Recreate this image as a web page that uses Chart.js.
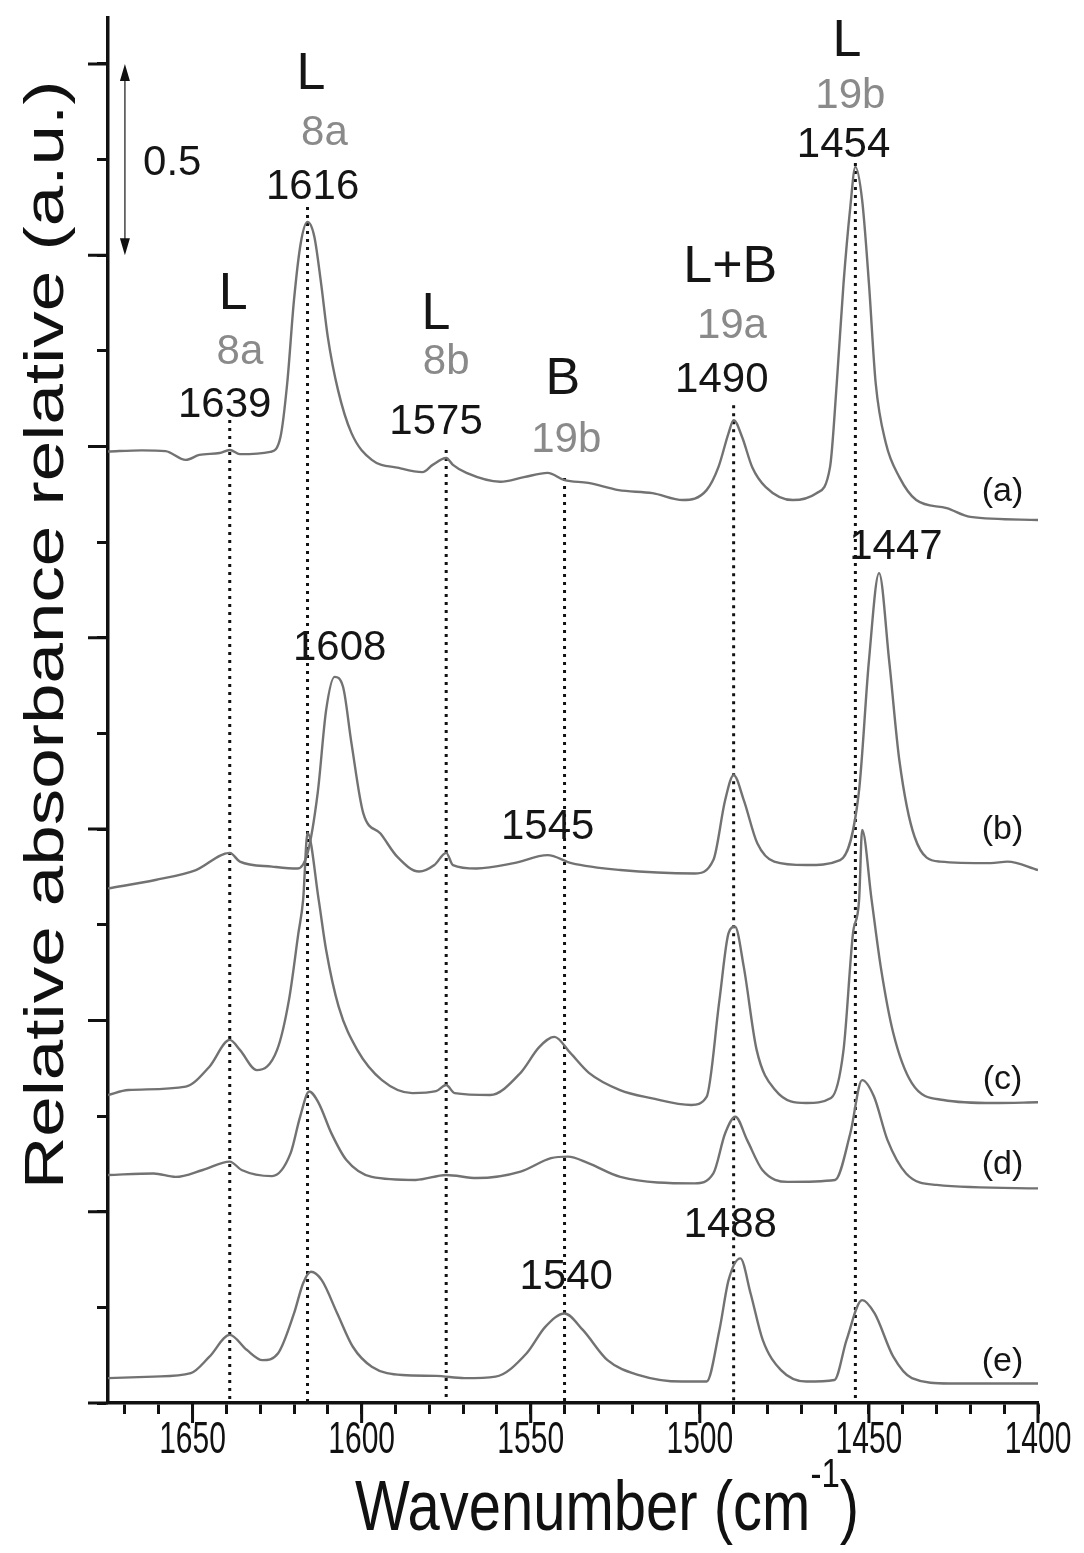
<!DOCTYPE html>
<html>
<head>
<meta charset="utf-8">
<script src="https://cdn.jsdelivr.net/npm/chart.js@4.4.1/dist/chart.umd.min.js"></script>
<style>
  html, body { margin: 0; padding: 0; background: #fff; }
  #wrap { width: 1084px; height: 1553px; }
</style>
</head>
<body>
<div id="wrap"><canvas id="spectra" width="1084" height="1553"></canvas></div>
<script>
// Pyridine-adsorption IR spectra (a)-(e), stacked with offsets
const wnA = [1675, 1665, 1658, 1652, 1648, 1642, 1639, 1636, 1627, 1624, 1622, 1620, 1618, 1616, 1614, 1612, 1610, 1607, 1603, 1597, 1589, 1582, 1579, 1575, 1573, 1569, 1559, 1552, 1545, 1540, 1533, 1524, 1514, 1505, 1498, 1494.5, 1491.5, 1490, 1487.5, 1484.5, 1480.5, 1472.5, 1465.5, 1461.5, 1459.5, 1457.5, 1455.5, 1454, 1452, 1450, 1448, 1445, 1441, 1436, 1427, 1420, 1400];
const absA = [2.487, 2.490, 2.488, 2.465, 2.478, 2.483, 2.491, 2.480, 2.486, 2.525, 2.666, 2.883, 3.032, 3.087, 3.049, 2.927, 2.786, 2.648, 2.535, 2.465, 2.444, 2.433, 2.452, 2.470, 2.452, 2.431, 2.408, 2.420, 2.431, 2.412, 2.405, 2.386, 2.378, 2.360, 2.386, 2.446, 2.535, 2.569, 2.525, 2.446, 2.394, 2.360, 2.378, 2.446, 2.666, 2.927, 3.126, 3.231, 3.144, 2.927, 2.666, 2.509, 2.420, 2.360, 2.339, 2.316, 2.308];

const wnB = [1675, 1661, 1649, 1639, 1636, 1626.5, 1619, 1616, 1613, 1610.5, 1608, 1605.5, 1603, 1599.5, 1594.5, 1589.5, 1583, 1578.5, 1575, 1573, 1566, 1555, 1545, 1538, 1523.5, 1501.5, 1496, 1492.5, 1490, 1487, 1483, 1478, 1468.5, 1458.5, 1453, 1450, 1447, 1444, 1441, 1436.5, 1429, 1414, 1409, 1400];
const absB = [1.345, 1.367, 1.393, 1.438, 1.415, 1.402, 1.397, 1.437, 1.594, 1.811, 1.898, 1.872, 1.724, 1.541, 1.489, 1.428, 1.389, 1.406, 1.438, 1.406, 1.397, 1.411, 1.432, 1.411, 1.393, 1.384, 1.419, 1.576, 1.641, 1.576, 1.463, 1.415, 1.406, 1.419, 1.594, 1.939, 2.169, 1.939, 1.680, 1.480, 1.415, 1.411, 1.415, 1.393];

const wnC = [1675, 1669, 1652, 1645, 1639, 1636, 1631, 1625, 1621.5, 1618.7, 1617.3, 1616, 1612.7, 1610.5, 1606.8, 1601.3, 1594, 1585, 1578, 1575, 1572.5, 1562, 1553, 1547.5, 1543, 1538.3, 1532.8, 1523.6, 1514.4, 1502.5, 1498, 1494.2, 1491.5, 1489.6, 1487, 1483.2, 1477.7, 1468.5, 1461.2, 1457.5, 1454.7, 1452.9, 1452, 1449.2, 1446.5, 1442.8, 1437.3, 1428, 1413, 1400];
const absC = [0.805, 0.818, 0.827, 0.879, 0.949, 0.923, 0.870, 0.923, 1.053, 1.228, 1.315, 1.490, 1.315, 1.184, 1.036, 0.923, 0.844, 0.810, 0.815, 0.831, 0.810, 0.805, 0.863, 0.930, 0.957, 0.915, 0.863, 0.818, 0.797, 0.779, 0.800, 1.053, 1.228, 1.245, 1.140, 0.923, 0.818, 0.784, 0.797, 0.923, 1.228, 1.315, 1.498, 1.315, 1.140, 0.967, 0.836, 0.792, 0.784, 0.786];

const wnD = [1675, 1661.5, 1655, 1647, 1639, 1635.5, 1626.5, 1621, 1618.2, 1615.5, 1612.7, 1609, 1604.5, 1597, 1584, 1575, 1566, 1553, 1544, 1539, 1533, 1523.5, 1501.5, 1496, 1492.5, 1489.5, 1486, 1481.5, 1474, 1460, 1455.5, 1452, 1448.5, 1444.5, 1439, 1430, 1400];
const absD = [0.596, 0.600, 0.591, 0.609, 0.631, 0.609, 0.593, 0.653, 0.748, 0.814, 0.784, 0.706, 0.635, 0.591, 0.583, 0.596, 0.588, 0.605, 0.640, 0.644, 0.627, 0.591, 0.574, 0.600, 0.705, 0.748, 0.687, 0.609, 0.578, 0.583, 0.705, 0.844, 0.801, 0.687, 0.600, 0.570, 0.561];

const wnE = [1675, 1661.5, 1650.5, 1645, 1639, 1634, 1629.3, 1624.7, 1620, 1617.3, 1615, 1611.8, 1607.2, 1602.6, 1597, 1588, 1578, 1569.6, 1560.4, 1551.2, 1545.7, 1540, 1534.6, 1527.3, 1518, 1505.3, 1498, 1494.2, 1491.5, 1488, 1485, 1481.4, 1476, 1468.5, 1460.2, 1456.6, 1452, 1448.3, 1442.8, 1437.3, 1426.3, 1400];
const absE = [0.065, 0.069, 0.078, 0.121, 0.178, 0.139, 0.112, 0.130, 0.234, 0.313, 0.343, 0.321, 0.234, 0.147, 0.095, 0.073, 0.071, 0.065, 0.069, 0.130, 0.199, 0.234, 0.191, 0.112, 0.073, 0.056, 0.056, 0.191, 0.321, 0.378, 0.287, 0.165, 0.086, 0.056, 0.060, 0.165, 0.269, 0.234, 0.121, 0.065, 0.051, 0.051];

const traceNames = ['(a)', '(b)', '(c)', '(d)', '(e)'];
const traceNameY = [2.381, 1.498, 0.844, 0.622, 0.107];

// dotted guide lines at the assigned bands
const guideWn = [1639, 1616, 1575, 1540, 1490, 1454];
const guideTop = [2.569, 3.126, 2.491, 2.418, 2.608, 3.241];

const xMajor = [1650, 1600, 1550, 1500, 1450, 1400];
const yMajor = [0, 0.5, 1, 1.5, 2, 2.5, 3, 3.5];

// band assignments: text, wavenumber, height, kind
const bandNotes = [
  ['L', 1615, 3.471, 'band'], ['8a', 1611, 3.319, 'mode'], ['1616', 1614.5, 3.178, 'num'],
  ['L', 1638, 2.896, 'band'], ['8a', 1636, 2.747, 'mode'], ['1639', 1640.5, 2.608, 'num'],
  ['L', 1578, 2.844, 'band'], ['8b', 1575, 2.721, 'mode'], ['1575', 1578, 2.564, 'num'],
  ['B', 1540.5, 2.674, 'band'], ['19b', 1539.5, 2.517, 'mode'],
  ['L+B', 1491, 2.967, 'band'], ['19a', 1490.5, 2.815, 'mode'], ['1490', 1493.5, 2.674, 'num'],
  ['L', 1456.5, 3.557, 'band'], ['19b', 1455.5, 3.416, 'mode'], ['1454', 1457.5, 3.288, 'num'],
  ['1447', 1442, 2.235, 'num'], ['1608', 1606.5, 1.973, 'num'], ['1545', 1545, 1.505, 'num'],
  ['1540', 1539.5, 0.327, 'num'], ['1488', 1491, 0.465, 'num']
];

const FONT = '"Liberation Sans", Arial, sans-serif';
const noteStyle = {
  band: { font: '52px ' + FONT, color: '#151515' },
  mode: { font: '42px ' + FONT, color: '#8a8a8a' },
  num: { font: '42px ' + FONT, color: '#151515' }
};

const traces = [[wnA, absA], [wnB, absB], [wnC, absC], [wnD, absD], [wnE, absE]];
const datasets = traces.map(([wn, ab], i) => ({
  label: traceNames[i],
  data: wn.map((w, j) => ({ x: w, y: ab[j] })),
  borderColor: '#727272',
  borderWidth: 2.4,
  pointRadius: 0,
  cubicInterpolationMode: 'monotone',
  fill: false
}));
guideWn.forEach((w, i) => {
  datasets.push({
    label: 'guide ' + w,
    data: [{ x: w, y: guideTop[i] }, { x: w, y: 0 }],
    borderColor: '#111',
    borderWidth: 3,
    borderDash: [3, 5],
    pointRadius: 0,
    fill: false
  });
});

const decor = {
  id: 'decor',
  afterDraw(chart) {
    const { ctx, chartArea: a, scales: { x, y } } = chart;
    ctx.save();

    // long ticks for the major values
    ctx.strokeStyle = '#111';
    ctx.lineWidth = 3;
    ctx.beginPath();
    xMajor.forEach(v => {
      const px = x.getPixelForValue(v);
      ctx.moveTo(px, a.bottom);
      ctx.lineTo(px, a.bottom + 20);
    });
    yMajor.forEach(v => {
      const py = y.getPixelForValue(v);
      ctx.moveTo(a.left, py);
      ctx.lineTo(a.left - 20, py);
    });
    ctx.stroke();

    // x tick labels, tall narrow digits
    ctx.fillStyle = '#111';
    ctx.textAlign = 'center';
    ctx.textBaseline = 'middle';
    ctx.font = '30px ' + FONT;
    xMajor.forEach(v => {
      ctx.save();
      ctx.translate(x.getPixelForValue(v), a.bottom + 38);
      ctx.scale(1, 1.45);
      ctx.fillText(String(v), 0, 0);
      ctx.restore();
    });

    // x title with superscript
    ctx.save();
    ctx.textAlign = 'left';
    ctx.textBaseline = 'alphabetic';
    const mainTxt = 'Wavenumber (cm';
    ctx.font = '58px ' + FONT;
    const wMain = ctx.measureText(mainTxt).width;
    const wClose = ctx.measureText(')').width;
    ctx.font = '33px ' + FONT;
    const wSup = ctx.measureText('-1').width;
    const total = wMain + wSup + wClose;
    const x0 = 607 - total / 2;
    ctx.translate(0, 1530);
    ctx.scale(1, 1.22);
    ctx.font = '58px ' + FONT;
    ctx.fillText(mainTxt, x0, 0);
    ctx.font = '33px ' + FONT;
    ctx.fillText('-1', x0 + wMain, -35);
    ctx.font = '58px ' + FONT;
    ctx.fillText(')', x0 + wMain + wSup, 0);
    ctx.restore();

    // y title, stretched along its length
    ctx.save();
    ctx.translate(48, 635);
    ctx.rotate(-Math.PI / 2);
    ctx.scale(1.3, 1);
    ctx.font = '56px ' + FONT;
    ctx.textAlign = 'center';
    ctx.textBaseline = 'middle';
    ctx.fillText('Relative absorbance relative (a.u.)', 0, 0);
    ctx.restore();

    // scale bar: 0.5 absorbance
    const ax = x.getPixelForValue(1670);
    const yTop = y.getPixelForValue(3.5);
    const yBot = y.getPixelForValue(3.0);
    ctx.strokeStyle = '#444';
    ctx.lineWidth = 1.5;
    ctx.beginPath();
    ctx.moveTo(ax, yTop + 14);
    ctx.lineTo(ax, yBot - 14);
    ctx.stroke();
    ctx.fillStyle = '#111';
    ctx.beginPath();
    ctx.moveTo(ax, yTop);
    ctx.lineTo(ax - 5, yTop + 17);
    ctx.lineTo(ax + 5, yTop + 17);
    ctx.closePath();
    ctx.moveTo(ax, yBot);
    ctx.lineTo(ax - 5, yBot - 17);
    ctx.lineTo(ax + 5, yBot - 17);
    ctx.closePath();
    ctx.fill();
    ctx.font = '42px ' + FONT;
    ctx.textAlign = 'center';
    ctx.textBaseline = 'middle';
    ctx.fillStyle = '#151515';
    ctx.fillText('0.5', x.getPixelForValue(1656), y.getPixelForValue(3.241));

    // band notes
    bandNotes.forEach(([txt, wn, h, kind]) => {
      ctx.font = noteStyle[kind].font;
      ctx.fillStyle = noteStyle[kind].color;
      ctx.fillText(txt, x.getPixelForValue(wn), y.getPixelForValue(h));
    });

    // trace names
    ctx.font = '34px ' + FONT;
    ctx.fillStyle = '#151515';
    traceNames.forEach((t, i) => {
      ctx.fillText(t, x.getPixelForValue(1410.5), y.getPixelForValue(traceNameY[i]));
    });

    ctx.restore();
  }
};

const axisGrid = {
  drawOnChartArea: false,
  drawTicks: true,
  tickLength: 11,
  tickWidth: 3,
  tickColor: '#111'
};

new Chart(document.getElementById('spectra'), {
  type: 'line',
  data: { datasets },
  options: {
    responsive: false,
    animation: false,
    devicePixelRatio: 1,
    layout: { padding: { left: 88, right: 46, top: 18, bottom: 130 } },
    plugins: { legend: { display: false }, tooltip: { enabled: false } },
    scales: {
      x: {
        type: 'linear',
        reverse: true,
        min: 1400,
        max: 1675,
        afterFit: s => { s.height = 20; },
        ticks: { stepSize: 10, includeBounds: false, display: false, autoSkip: false },
        grid: axisGrid,
        border: { display: true, width: 3.5, color: '#111' }
      },
      y: {
        type: 'linear',
        min: 0,
        max: 3.62,
        afterFit: s => { s.width = 20; },
        ticks: { stepSize: 0.25, includeBounds: false, display: false, autoSkip: false },
        grid: axisGrid,
        border: { display: true, width: 3.5, color: '#111' }
      }
    }
  },
  plugins: [decor]
});
</script>
</body>
</html>
